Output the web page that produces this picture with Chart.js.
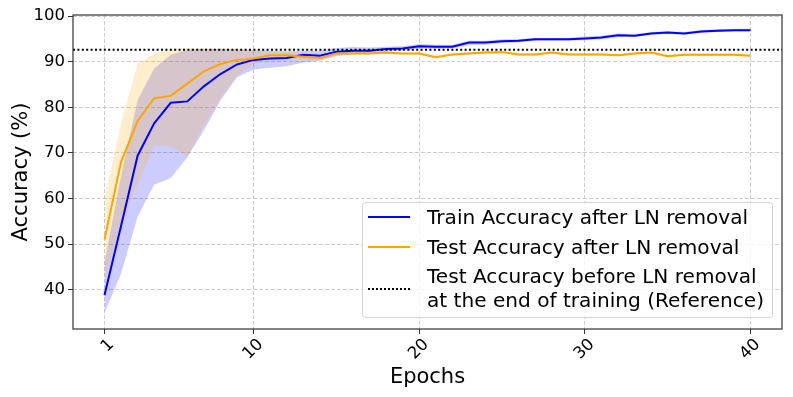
<!DOCTYPE html>
<html>
<head>
<meta charset="utf-8">
<title>Accuracy after LN removal</title>
<script src="https://cdn.jsdelivr.net/npm/chart.js@4.4.1/dist/chart.umd.min.js"></script>
<style>
    html, body { margin: 0; padding: 0; background: #fff; }
    #wrap {
        position: relative;
        width: 793px;
        height: 397px;
        font-family: "DejaVu Sans", sans-serif;
        color: #000;
    }
    #chart { position: absolute; left: 0; top: 0; }
    .legend-box {
        position: absolute;
        left: 362px;
        top: 202px;
        width: 411px;
        height: 116px;
        box-sizing: border-box;
        background: rgba(255, 255, 255, 0.8);
        border: 1px solid #d4d4d4;
        border-radius: 4px;
    }
    .legend-handle {
        position: absolute;
        left: 368px;
        width: 42px;
        height: 2px;
    }
    .legend-text {
        position: absolute;
        left: 427px;
        font-size: 20.1px;
        line-height: 24px;
        white-space: nowrap;
    }
</style>
</head>
<body>
<div id="wrap">
    <canvas id="chart" width="793" height="397"></canvas>

    <!-- legend (matplotlib style, bottom right of the axes) -->
    <div class="legend-box"></div>
    <div class="legend-handle" style="top: 215.7px; background: blue;"></div>
    <div class="legend-text" style="top: 204.7px;">Train Accuracy after LN removal</div>
    <div class="legend-handle" style="top: 245.7px; background: orange;"></div>
    <div class="legend-text" style="top: 234.7px;">Test Accuracy after LN removal</div>
    <div class="legend-handle" style="top: 288.3px; height: 0; border-top: 2px dotted #000;"></div>
    <div class="legend-text" style="top: 264px;">Test Accuracy before LN removal<br>at the end of training (Reference)</div>
</div>

<script>
// ========================================
// Data
// ========================================

const epochs = [1, 2, 3, 4, 5, 6, 7, 8, 9, 10,
    11, 12, 13, 14, 15, 16, 17, 18, 19, 20,
    21, 22, 23, 24, 25, 26, 27, 28, 29, 30,
    31, 32, 33, 34, 35, 36, 37, 38, 39, 40];

// train accuracy after LN removal (mean, min, max)
const trainAcc = [38.8, 54.0, 69.4, 76.5, 81.0, 81.3, 84.6, 87.3, 89.4, 90.4,
    90.7, 90.8, 91.5, 91.3, 92.2, 92.4, 92.4, 92.8, 92.9, 93.4,
    93.3, 93.3, 94.2, 94.2, 94.5, 94.6, 94.9, 94.9, 94.9, 95.1,
    95.3, 95.8, 95.7, 96.2, 96.4, 96.2, 96.6, 96.8, 96.9, 96.9];
const trainLow = [34.9, 43.5, 56.0, 63.0, 64.5, 69.0, 75.0, 81.5, 86.6, 88.3,
    88.7, 89.0, 89.8, 90.2, 91.2, 91.7, 91.8, 92.3, 92.4, 92.9,
    92.9, 92.9, 93.6, 93.7, 94.1, 94.2, 94.6, 94.6, 94.6, 94.7,
    94.9, 95.4, 95.4, 95.9, 96.1, 95.9, 96.3, 96.5, 96.6, 96.6];
const trainHigh = [46.0, 65.0, 81.6, 88.5, 91.5, 92.6, 92.8, 92.8, 92.7, 92.5,
    92.4, 92.3, 92.4, 92.4, 93.0, 93.2, 93.1, 93.3, 93.4, 93.9,
    93.7, 93.7, 94.6, 94.6, 94.9, 95.0, 95.2, 95.2, 95.2, 95.5,
    95.7, 96.2, 96.0, 96.5, 96.7, 96.5, 96.9, 97.1, 97.2, 97.2];

// test accuracy after LN removal (mean, min, max)
const testAcc = [51.0, 68.0, 77.0, 82.0, 82.5, 85.2, 87.9, 89.5, 90.4, 90.7,
    91.4, 91.4, 91.1, 90.8, 91.8, 91.8, 91.8, 92.0, 91.8, 91.8,
    91.0, 91.6, 91.8, 92.0, 92.1, 91.6, 91.6, 92.0, 91.6, 91.6,
    91.6, 91.4, 91.8, 92.0, 91.2, 91.5, 91.5, 91.5, 91.5, 91.3];
const testLow = [42.0, 55.0, 63.0, 71.7, 71.4, 69.2, 76.0, 82.0, 87.0, 89.5,
    90.3, 90.5, 90.6, 90.3, 91.4, 91.5, 91.5, 91.7, 91.5, 91.5,
    90.7, 91.3, 91.5, 91.7, 91.8, 91.3, 91.3, 91.7, 91.3, 91.3,
    91.3, 91.1, 91.5, 91.7, 90.9, 91.2, 91.2, 91.2, 91.2, 91.0];
const testHigh = [60.0, 76.5, 89.5, 91.8, 92.7, 92.9, 92.9, 92.9, 92.8, 92.5,
    92.3, 92.2, 91.8, 91.5, 92.2, 92.1, 92.1, 92.3, 92.1, 92.1,
    91.3, 91.9, 92.1, 92.3, 92.4, 91.9, 91.9, 92.3, 91.9, 91.9,
    91.9, 91.7, 92.1, 92.3, 91.5, 91.8, 91.8, 91.8, 91.8, 91.6];

// test accuracy before LN removal, end of training
const refAcc = 92.6;

// axes
const xTicks = [1, 10, 20, 30, 40];
const yTicks = [40, 50, 60, 70, 80, 90, 100];
const xRange = [-0.9, 41.9];
const yRange = [31.4, 100.24];

// ========================================
// Helpers
// ========================================

const FONT = 'DejaVu Sans';

const toPoints = ys => epochs.map((e, i) => ({ x: e, y: ys[i] }));

// matplotlib draws a full box round the axes
const framePlugin = {
    id: 'frame',
    afterDraw: function(chart) {
        const { ctx, chartArea: a } = chart;
        ctx.save();
        ctx.strokeStyle = '#333';
        ctx.lineWidth = 1.2;
        ctx.strokeRect(a.left, a.top, a.right - a.left, a.bottom - a.top);
        ctx.restore();
    }
};

const gridStyle = {
    color: 'rgba(176, 176, 176, 0.65)',
    lineWidth: 1,
    tickColor: '#333',
    tickLength: 5,
    tickWidth: 1
};

// ========================================
// Chart
// ========================================

const ctx = document.getElementById('chart').getContext('2d');

new Chart(ctx, {
    type: 'line',
    data: {
        datasets: [
            {
                label: 'Test Accuracy before LN removal at the end of training (Reference)',
                data: [{ x: xRange[0], y: refAcc }, { x: xRange[1], y: refAcc }],
                borderColor: '#000',
                borderWidth: 2,
                borderDash: [2, 2.4],
                pointRadius: 0,
                fill: false,
                order: 0
            },
            {
                label: 'Test Accuracy after LN removal',
                data: toPoints(testAcc),
                borderColor: 'orange',
                borderWidth: 2,
                pointRadius: 0,
                fill: false,
                order: 1
            },
            {
                label: 'Train Accuracy after LN removal',
                data: toPoints(trainAcc),
                borderColor: 'blue',
                borderWidth: 2,
                pointRadius: 0,
                fill: false,
                order: 2
            },
            {
                label: 'test low',
                data: toPoints(testLow),
                borderColor: 'transparent',
                borderWidth: 0,
                pointRadius: 0,
                fill: false,
                order: 3
            },
            {
                label: 'test high',
                data: toPoints(testHigh),
                borderColor: 'transparent',
                borderWidth: 0,
                pointRadius: 0,
                backgroundColor: 'rgba(255, 165, 0, 0.2)',
                fill: '-1',
                order: 4
            },
            {
                label: 'train low',
                data: toPoints(trainLow),
                borderColor: 'transparent',
                borderWidth: 0,
                pointRadius: 0,
                fill: false,
                order: 5
            },
            {
                label: 'train high',
                data: toPoints(trainHigh),
                borderColor: 'transparent',
                borderWidth: 0,
                pointRadius: 0,
                backgroundColor: 'rgba(0, 0, 255, 0.2)',
                fill: '-1',
                order: 6
            }
        ]
    },
    options: {
        responsive: false,
        animation: false,
        devicePixelRatio: 1,
        layout: {
            padding: { left: 0, right: 11, top: 15, bottom: 0 }
        },
        plugins: {
            legend: { display: false },
            tooltip: { enabled: false },
            filler: { propagate: false, drawTime: 'beforeDatasetsDraw' }
        },
        scales: {
            x: {
                type: 'linear',
                min: xRange[0],
                max: xRange[1],
                afterBuildTicks: function(scale) {
                    scale.ticks = xTicks.map(v => ({ value: v }));
                },
                afterFit: function(scale) {
                    scale.height = 68;
                },
                grid: gridStyle,
                border: { display: false, dash: [4, 2] },
                ticks: {
                    autoSkip: false,
                    minRotation: 45,
                    maxRotation: 45,
                    padding: 1,
                    labelOffset: 7,
                    color: '#000',
                    font: { family: FONT, size: 16.5 }
                },
                title: {
                    display: true,
                    text: 'Epochs',
                    color: '#000',
                    font: { family: FONT, size: 21 },
                    padding: { top: 0, bottom: 7 }
                }
            },
            y: {
                min: yRange[0],
                max: yRange[1],
                afterBuildTicks: function(scale) {
                    scale.ticks = yTicks.map(v => ({ value: v }));
                },
                afterFit: function(scale) {
                    scale.width = 73;
                },
                grid: gridStyle,
                border: { display: false, dash: [4, 2] },
                ticks: {
                    padding: 3,
                    color: '#000',
                    font: { family: FONT, size: 16.5 }
                },
                title: {
                    display: true,
                    text: 'Accuracy (%)',
                    color: '#000',
                    font: { family: FONT, size: 21 },
                    padding: { top: 9, bottom: 0 }
                }
            }
        }
    },
    plugins: [framePlugin]
});
</script>
</body>
</html>
